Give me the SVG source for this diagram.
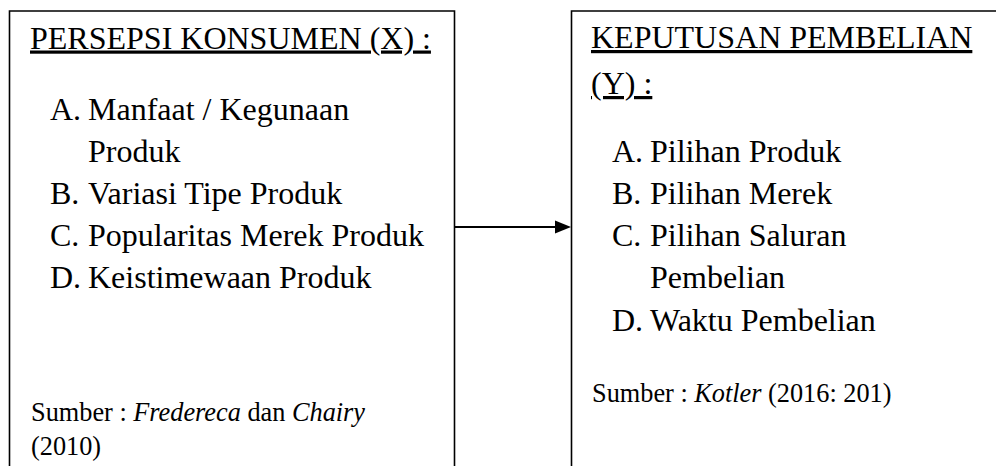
<svg xmlns="http://www.w3.org/2000/svg" width="996" height="466" viewBox="0 0 996 466">
<defs>
<style>
.box{fill:#fff;stroke:#000;stroke-width:1.6}
.t{font-family:"Liberation Serif","Times New Roman",serif;font-size:32px;fill:#000}
.h{text-decoration:underline}
.s{font-family:"Liberation Serif","Times New Roman",serif;font-size:26.3px;fill:#000}
.i{font-style:italic}
.conn{stroke:#000;stroke-width:2.2;fill:none}
</style>
</defs>
<rect width="996" height="466" fill="#fff"/>
<g id="node-x">
<path class="box" d="M9.5,470 V11 H454.5 V470"/>
<text class="t h" x="30" y="48.5">PERSEPSI KONSUMEN (X) :</text>
<text class="t" x="50" y="120">A.</text><text class="t" x="88" y="120">Manfaat / Kegunaan</text>
<text class="t" x="88" y="162">Produk</text>
<text class="t" x="50" y="204">B.</text><text class="t" x="88" y="204">Variasi Tipe Produk</text>
<text class="t" x="50" y="246">C.</text><text class="t" x="88" y="246">Popularitas Merek Produk</text>
<text class="t" x="50" y="288">D.</text><text class="t" x="88" y="288">Keistimewaan Produk</text>
<text class="s" x="31" y="421">Sumber : <tspan class="i">Fredereca</tspan> dan <tspan class="i">Chairy</tspan></text>
<text class="s" x="31" y="455">(2010)</text>
</g>
<g id="node-y">
<path class="box" d="M571.5,470 V11 H1000"/>
<text class="t h" x="591" y="48">KEPUTUSAN PEMBELIAN</text>
<text class="t h" x="591" y="94">(Y) :</text>
<text class="t" x="612" y="162">A.</text><text class="t" x="650" y="162">Pilihan Produk</text>
<text class="t" x="612" y="204">B.</text><text class="t" x="650" y="204">Pilihan Merek</text>
<text class="t" x="612" y="246">C.</text><text class="t" x="650" y="246">Pilihan Saluran</text>
<text class="t" x="650" y="288">Pembelian</text>
<text class="t" x="612" y="331">D.</text><text class="t" x="650" y="331">Waktu Pembelian</text>
<text class="s" x="592" y="402">Sumber : <tspan class="i">Kotler</tspan> (2016: 201)</text>
</g>
<g id="connectors">
<line class="conn" x1="454.5" y1="227" x2="557" y2="227"/>
<path d="M555,220.5 L571,227 L555,233.5 Z" fill="#000"/>
</g>
</svg>
